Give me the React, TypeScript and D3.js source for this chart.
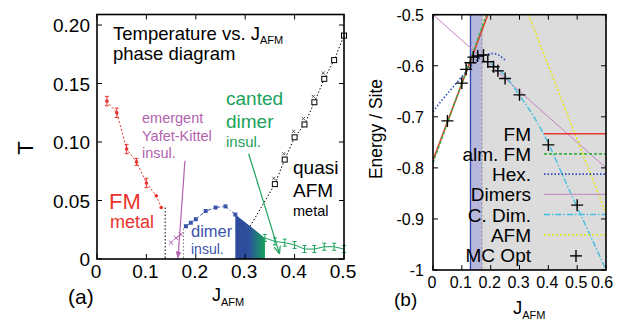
import React from 'react';
import * as d3 from 'd3';

// ---- panel (a): T vs J_AFM phase diagram ----
const fmJ = [0.02, 0.04, 0.06, 0.08, 0.10, 0.12, 0.13];
const fmT = [0.135, 0.125, 0.094, 0.083, 0.065, 0.054, 0.044];
const fmErr = [0.004, 0.004, 0.004, 0.003, 0.004, 0, 0];

const ykJ = [0.15, 0.16, 0.17];
const ykT = [0.014, 0.018, 0.021];

const dimerJ = [0.18, 0.19, 0.20, 0.22, 0.24, 0.26, 0.28];
const dimerT = [0.028, 0.031, 0.034, 0.041, 0.044, 0.045, 0.038];

const cantedJ = [0.34, 0.36, 0.38, 0.40, 0.42, 0.44, 0.46, 0.48, 0.50];
const cantedT = [0.018, 0.015, 0.014, 0.012, 0.0085, 0.0085, 0.0105, 0.0105, 0.0085];

const afmJ = [0.31, 0.36, 0.38, 0.40, 0.42, 0.44, 0.46, 0.48, 0.50];
const afmT = [0.028, 0.064, 0.085, 0.104, 0.115, 0.134, 0.154, 0.170, 0.191];
const afmXJ = [0.36, 0.38, 0.40, 0.42, 0.44, 0.46];
const afmXT = [0.069, 0.09, 0.109, 0.12, 0.139, 0.159];

// shaded dimer -> canted crossover
const shadeJ = [0.28, 0.34];
const shadeT = [0.038, 0.018];

// vertical phase boundaries [J, top T]
const fmEdge = [0.138, 0.044];
const ykEdge = [0.175, 0.026];

const aXTicks = [0, 0.1, 0.2, 0.3, 0.4, 0.5];
const aXLabels = ['0', '0.1', '0.2', '0.3', '0.4', '0.5'];
const aYTicks = [0, 0.05, 0.1, 0.15, 0.2];
const aYLabels = ['0', '0.05', '0.10', '0.15', '0.20'];

// ---- panel (b): energy per site ----
const fmLineJ = [0, 0.19];
const fmLineE = [-0.785, -0.5];
const almFmJ = [0, 0.186];
const almFmE = [-0.79, -0.5];
const hexJ = [0, 0.03, 0.06, 0.09, 0.12, 0.15, 0.18, 0.21, 0.24, 0.25];
const hexE = [-0.69, -0.668, -0.648, -0.628, -0.608, -0.59, -0.579, -0.576, -0.584, -0.589];
const dimersJ = [0, 0.6];
const dimersE = [-0.5, -0.8];
const cdimJ = [0.2, 0.25, 0.3, 0.35, 0.4, 0.45, 0.5, 0.55, 0.6];
const cdimE = [-0.595, -0.62, -0.658, -0.7, -0.752, -0.815, -0.877, -0.938, -1.0];
const afmLineJ = [0.331, 0.6];
const afmLineE = [-0.5, -0.889];
const mcJ = [0.05, 0.10, 0.115, 0.13, 0.14, 0.155, 0.175, 0.19, 0.21, 0.225, 0.25, 0.30, 0.40, 0.50];
const mcE = [-0.708, -0.634, -0.607, -0.594, -0.583, -0.581, -0.579, -0.592, -0.602, -0.61, -0.625, -0.657, -0.755, -0.873];

const bandJ = [0.13, 0.17];

const bXTicks = [0, 0.1, 0.2, 0.3, 0.4, 0.5, 0.6];
const bXLabels = ['0', '0.1', '0.2', '0.3', '0.4', '0.5', '0.6'];
const bYTicks = [-0.5, -0.6, -0.7, -0.8, -0.9, -1];
const bYLabels = ['-0.5', '-0.6', '-0.7', '-0.8', '-0.9', '-1'];

const legendLabels = ['FM', 'alm. FM', 'Hex.', 'Dimers', 'C. Dim.', 'AFM', 'MC Opt'];

const RED = '#e8342e';
const PURPLE = '#b262ad';
const BLUE = '#3a54ac';
const GREEN = '#1ba25c';
const FONT = "'Liberation Sans', Arial, sans-serif";

const zip = (a: number[], b: number[]) => a.map((v, i) => [v, b[i]] as [number, number]);

export default function App() {
  // panel a scales
  const xA = d3.scaleLinear().domain([0, 0.5]).range([97, 344]);
  const yA = d3.scaleLinear().domain([0, 0.209]).range([259, 14.5]);
  // panel b scales
  const xB = d3.scaleLinear().domain([0, 0.6]).range([433, 606]);
  const yB = d3.scaleLinear().domain([-1, -0.5]).range([270, 14.7]);

  const lineA = d3.line<[number, number]>().x(d => xA(d[0])).y(d => yA(d[1]));
  const lineB = d3.line<[number, number]>().x(d => xB(d[0])).y(d => yB(d[1]));
  const curveB = d3.line<[number, number]>().x(d => xB(d[0])).y(d => yB(d[1])).curve(d3.curveMonotoneX);

  const errBar = (j: number, t: number, e: number, color: string, key: string) => (
    <g key={key} stroke={color} strokeWidth={1}>
      <line x1={xA(j)} x2={xA(j)} y1={yA(t - e)} y2={yA(t + e)} />
      <line x1={xA(j) - 2} x2={xA(j) + 2} y1={yA(t - e)} y2={yA(t - e)} />
      <line x1={xA(j) - 2} x2={xA(j) + 2} y1={yA(t + e)} y2={yA(t + e)} />
    </g>
  );
  const xMark = (cx: number, cy: number, s: number, color: string, key: string, w = 1) => (
    <g key={key} stroke={color} strokeWidth={w}>
      <line x1={cx - s} x2={cx + s} y1={cy - s} y2={cy + s} />
      <line x1={cx - s} x2={cx + s} y1={cy + s} y2={cy - s} />
    </g>
  );
  const plus = (cx: number, cy: number, s: number, key: string) => (
    <g key={key} stroke="#000" strokeWidth={1.4}>
      <line x1={cx - s} x2={cx + s} y1={cy} y2={cy} />
      <line x1={cx} x2={cx} y1={cy - s} y2={cy + s} />
    </g>
  );

  const shadePath =
    `M${xA(shadeJ[0])},${yA(0)} L${xA(shadeJ[0])},${yA(shadeT[0])} ` +
    `L${xA(shadeJ[1])},${yA(shadeT[1])} L${xA(shadeJ[1])},${yA(0)} Z`;

  const legendStyles = [
    { stroke: RED, dash: '', w: 1.6 },
    { stroke: '#3cb043', dash: '3,2', w: 1.6 },
    { stroke: '#2a48c0', dash: '1.5,2', w: 1.6 },
    { stroke: '#c383c3', dash: '', w: 1 },
    { stroke: '#45bfe0', dash: '6,2,1.5,2', w: 1.4 },
    { stroke: '#e6e617', dash: '2,2', w: 1.6 },
  ];
  const legendY = (i: number) => 140.7 + i * 20.2;

  return (
    <svg width={621} height={320} style={{ position: 'absolute', left: 0, top: 0, background: '#fff' }}
      fontFamily={FONT}>
      <defs>
        <linearGradient id="shadeGrad" x1={xA(shadeJ[0])} x2={xA(shadeJ[1])} y1={0} y2={0} gradientUnits="userSpaceOnUse">
          <stop offset="0" stopColor="#2d4b9c" />
          <stop offset="0.45" stopColor="#2d4f9c" />
          <stop offset="1" stopColor="#16a05e" />
        </linearGradient>
        <marker id="arrP" viewBox="0 0 10 10" refX={9} refY={5} markerWidth={7} markerHeight={7}
          markerUnits="userSpaceOnUse" orient="auto">
          <path d="M0,1 L10,5 L0,9 Z" fill={PURPLE} />
        </marker>
        <marker id="arrG" viewBox="0 0 10 10" refX={9} refY={5} markerWidth={8} markerHeight={8}
          markerUnits="userSpaceOnUse" orient="auto">
          <path d="M0,1 L10,5 L0,9" fill="none" stroke={GREEN} strokeWidth={1.5} />
        </marker>
        <clipPath id="clipB">
          <rect x={xB(0)} y={yB(-0.5)} width={xB(0.6) - xB(0)} height={yB(-1) - yB(-0.5)} />
        </clipPath>
      </defs>

      {/* ================= panel (a) ================= */}
      <path d={shadePath} fill="url(#shadeGrad)" />

      {/* boundaries */}
      <line x1={xA(fmEdge[0])} x2={xA(fmEdge[0])} y1={yA(fmEdge[1])} y2={yA(0)} stroke="#000" strokeWidth={1} strokeDasharray="1.5,2" />
      <line x1={xA(ykEdge[0])} x2={xA(ykEdge[0])} y1={yA(ykEdge[1])} y2={yA(0)} stroke="#777" strokeWidth={1} strokeDasharray="1.5,2" />

      {/* FM metal */}
      <path d={lineA(zip(fmJ, fmT)) ?? ''} fill="none" stroke={RED} strokeWidth={1} strokeDasharray="2,2" />
      {fmJ.map((j, i) => fmErr[i] > 0 ? errBar(j, fmT[i], fmErr[i], RED, 'fe' + i) : null)}
      {fmJ.map((j, i) => <circle key={'fc' + i} cx={xA(j)} cy={yA(fmT[i])} r={1.8} fill={RED} />)}

      {/* Yafet-Kittel */}
      <path d={lineA(zip(ykJ, ykT)) ?? ''} fill="none" stroke={PURPLE} strokeWidth={1} strokeDasharray="2,2" />
      {ykJ.map((j, i) => xMark(xA(j), yA(ykT[i]), 2.2, PURPLE, 'yk' + i))}

      {/* dimer insulator */}
      <path d={lineA(zip(dimerJ, dimerT)) ?? ''} fill="none" stroke={BLUE} strokeWidth={1} strokeDasharray="4,2,1,2" />
      {dimerJ.map((j, i) => (
        <rect key={'ds' + i} x={xA(j) - 2} y={yA(dimerT[i]) - 2} width={4} height={4} fill={BLUE} />
      ))}

      {/* canted dimer */}
      <path d={lineA(zip(cantedJ, cantedT)) ?? ''} fill="none" stroke={GREEN} strokeWidth={1} />
      {cantedJ.map((j, i) => errBar(j, cantedT[i], 0.003, GREEN, 'ce' + i))}

      {/* quasi AFM metal */}
      <path d={lineA(zip(afmJ, afmT)) ?? ''} fill="none" stroke="#000" strokeWidth={1} strokeDasharray="1.5,2" />
      {afmJ.slice(1).map((j, i) => (
        <rect key={'as' + i} x={xA(j) - 2.5} y={yA(afmT[i + 1]) - 2.5} width={5} height={5} fill="#fff" stroke="#000" strokeWidth={1} />
      ))}
      {afmXJ.map((j, i) => xMark(xA(j) - 1, yA(afmXT[i]), 1.6, '#333', 'ax' + i, 0.8))}

      {/* arrows */}
      <line x1={xA(0.178)} y1={yA(0.084)} x2={xA(0.164)} y2={yA(0.001)} stroke={PURPLE} strokeWidth={1.2} markerEnd="url(#arrP)" />
      <line x1={xA(0.307)} y1={yA(0.09)} x2={xA(0.369)} y2={yA(0.005)} stroke={GREEN} strokeWidth={1.2} markerEnd="url(#arrG)" />

      {/* frame + ticks */}
      <rect x={xA(0)} y={yA(0.209)} width={xA(0.5) - xA(0)} height={yA(0) - yA(0.209)} fill="none" stroke="#000" strokeWidth={1.6} />
      {aXTicks.map((t, i) => (
        <g key={'axt' + i}>
          <line x1={xA(t)} x2={xA(t)} y1={yA(0)} y2={yA(0) - 5} stroke="#000" strokeWidth={1} />
          <line x1={xA(t)} x2={xA(t)} y1={yA(0.209)} y2={yA(0.209) + 5} stroke="#000" strokeWidth={1} />
          <text x={xA(t) - 1} y={278} textAnchor="middle" fontSize={19}>{aXLabels[i]}</text>
        </g>
      ))}
      {aYTicks.map((t, i) => (
        <g key={'ayt' + i}>
          <line x1={xA(0)} x2={xA(0) + 5} y1={yA(t)} y2={yA(t)} stroke="#000" strokeWidth={1} />
          <line x1={xA(0.5)} x2={xA(0.5) - 5} y1={yA(t)} y2={yA(t)} stroke="#000" strokeWidth={1} />
          <text x={90} y={yA(t) + 7} textAnchor="end" fontSize={19}>{aYLabels[i]}</text>
        </g>
      ))}
      <text transform="translate(33,148) rotate(-90)" textAnchor="middle" fontSize={22}>T</text>
      <text x={212} y={301} fontSize={18}>J<tspan fontSize={11} dy={5}>AFM</tspan></text>
      <text x={68} y={304} fontSize={21}>(a)</text>

      {/* annotations */}
      <text x={113} y={40} fontSize={18.5}>Temperature vs. J<tspan fontSize={11} dy={4}>AFM</tspan></text>
      <text x={113} y={60} fontSize={18.5}>phase diagram</text>
      <g fill={PURPLE} fontSize={14.5}>
        <text x={142} y={122.5}>emergent</text>
        <text x={142} y={141}>Yafet-Kittel</text>
        <text x={142} y={158}>insul.</text>
      </g>
      <g fill={GREEN}>
        <text x={226} y={105} fontSize={19}>canted</text>
        <text x={226} y={128} fontSize={19}>dimer</text>
        <text x={226} y={146.5} fontSize={15}>insul.</text>
      </g>
      <g fill="#000">
        <text x={293} y={174} fontSize={19}>quasi</text>
        <text x={293} y={197} fontSize={19}>AFM</text>
        <text x={293} y={216} fontSize={14.5}>metal</text>
      </g>
      <g fill={RED}>
        <text x={109} y={209} fontSize={22}>FM</text>
        <text x={110} y={228} fontSize={18}>metal</text>
      </g>
      <g fill={BLUE}>
        <text x={191} y={237} fontSize={16.5}>dimer</text>
        <text x={191} y={254} fontSize={14}>insul.</text>
      </g>

      {/* ================= panel (b) ================= */}
      <rect x={xB(bandJ[1])} y={yB(-0.5)} width={xB(0.6) - xB(bandJ[1])} height={yB(-1) - yB(-0.5)} fill="#dcdcdc" />
      <rect x={xB(bandJ[0])} y={yB(-0.5)} width={xB(bandJ[1]) - xB(bandJ[0])} height={yB(-1) - yB(-0.5)} fill="#b8b8dc" />
      <line x1={xB(bandJ[0])} x2={xB(bandJ[0])} y1={yB(-0.5)} y2={yB(-1)} stroke="#2a46b0" strokeWidth={1.3} />
      <line x1={xB(bandJ[1])} x2={xB(bandJ[1])} y1={yB(-0.5)} y2={yB(-1)} stroke="#888" strokeWidth={1} strokeDasharray="2,2" />

      <g clipPath="url(#clipB)" fill="none">
        <path d={lineB(zip(dimersJ, dimersE)) ?? ''} stroke={legendStyles[3].stroke} strokeWidth={1} />
        <path d={lineB(zip(afmLineJ, afmLineE)) ?? ''} stroke={legendStyles[5].stroke} strokeWidth={1.6} strokeDasharray="2,2" />
        <path d={curveB(zip(hexJ, hexE)) ?? ''} stroke={legendStyles[2].stroke} strokeWidth={1.6} strokeDasharray="1.5,2" />
        <path d={curveB(zip(cdimJ, cdimE)) ?? ''} stroke={legendStyles[4].stroke} strokeWidth={1.4} strokeDasharray="6,2,1.5,2" />
        <path d={lineB(zip(fmLineJ, fmLineE)) ?? ''} stroke={RED} strokeWidth={1.6} />
        <path d={lineB(zip(almFmJ, almFmE)) ?? ''} stroke={legendStyles[1].stroke} strokeWidth={1.6} strokeDasharray="3,2" />
        {mcJ.map((j, i) => plus(xB(j), yB(mcE[i]), 6, 'mc' + i))}
      </g>

      {/* legend */}
      {legendLabels.map((lab, i) => (
        <g key={'lg' + i}>
          <text x={531} y={legendY(i)} textAnchor="end" fontSize={19}>{lab}</text>
          {i < 6 ? (
            <line x1={544} x2={xB(0.6)} y1={legendY(i) - 7} y2={legendY(i) - 7}
              stroke={legendStyles[i].stroke} strokeWidth={legendStyles[i].w} strokeDasharray={legendStyles[i].dash} />
          ) : plus(576, legendY(i) - 6, 6, 'lgp')}
        </g>
      ))}

      {/* frame + ticks */}
      <rect x={xB(0)} y={yB(-0.5)} width={xB(0.6) - xB(0)} height={yB(-1) - yB(-0.5)} fill="none" stroke="#000" strokeWidth={1.6} />
      {bXTicks.map((t, i) => (
        <g key={'bxt' + i}>
          <line x1={xB(t)} x2={xB(t)} y1={yB(-1)} y2={yB(-1) - 5} stroke="#000" strokeWidth={1} />
          <line x1={xB(t)} x2={xB(t)} y1={yB(-0.5)} y2={yB(-0.5) + 5} stroke="#000" strokeWidth={1} />
          <text x={xB(t) - (i === 6 ? 4 : 1)} y={288} textAnchor="middle" fontSize={16}>{bXLabels[i]}</text>
        </g>
      ))}
      {bYTicks.map((t, i) => (
        <g key={'byt' + i}>
          <line x1={xB(0)} x2={xB(0) + 5} y1={yB(t)} y2={yB(t)} stroke="#000" strokeWidth={1} />
          <line x1={xB(0.6)} x2={xB(0.6) - 5} y1={yB(t)} y2={yB(t)} stroke="#000" strokeWidth={1} />
          <text x={424} y={yB(t) + 6} textAnchor="end" fontSize={16}>{bYLabels[i]}</text>
        </g>
      ))}
      <text transform="translate(382,129) rotate(-90)" textAnchor="middle" fontSize={17.5}>Energy / Site</text>
      <text x={513} y={314} fontSize={18.5}>J<tspan fontSize={11} dy={5}>AFM</tspan></text>
      <text x={394} y={306} fontSize={19}>(b)</text>
    </svg>
  );
}
